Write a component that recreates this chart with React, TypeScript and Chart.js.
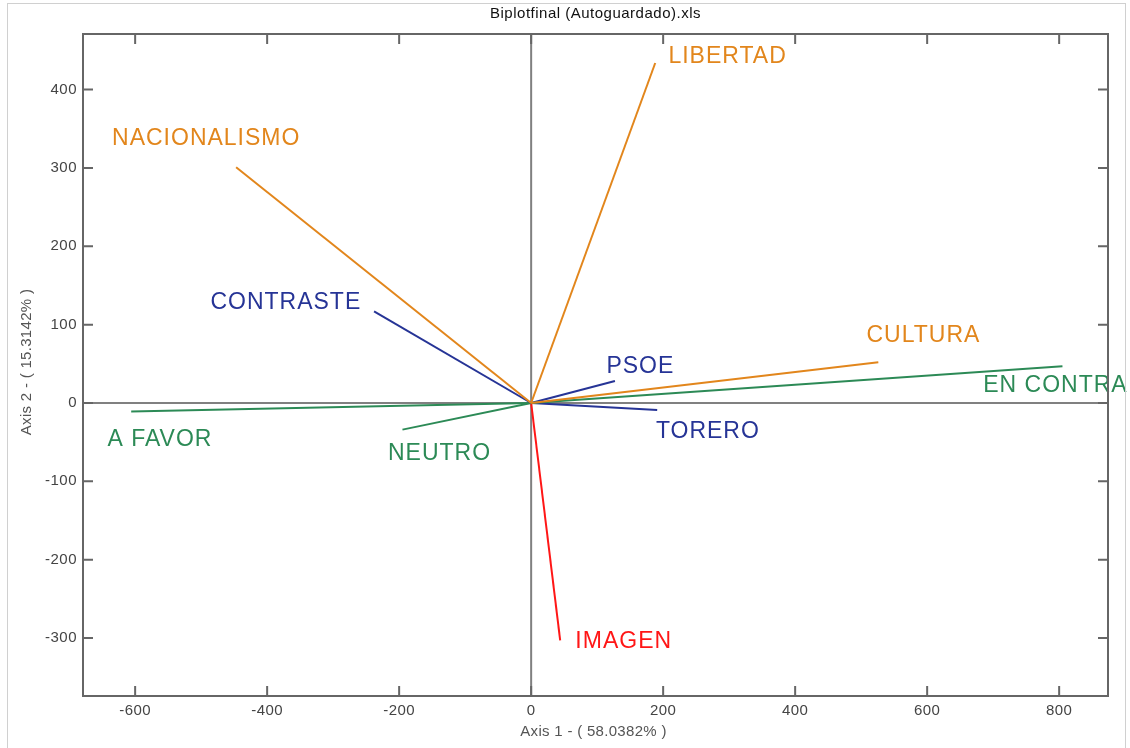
import { useEffect, useRef } from "react";
import { Chart, registerables } from "chart.js";

Chart.register(...registerables);

// ---- Data ----
const variables = ["LIBERTAD", "NACIONALISMO", "CONTRASTE", "CULTURA", "EN CONTRA", "PSOE", "TORERO", "A FAVOR", "NEUTRO", "IMAGEN"];
const groups = ["rasgo", "rasgo", "figura", "rasgo", "postura", "figura", "figura", "postura", "postura", "imagen"];
const axis1 = [188, -447, -238, 526, 805, 127, 191, -606, -195, 44];
const axis2 = [434, 301, 117, 52, 47, 28, -9, -11, -34, -303];
const labelAxis1 = [208, -635, -486, 508, 685, 114, 189, -642, -217, 67];
const labelAxis2 = [442, 338, 128, 86, 22, 47, -36, -47, -65, -304];
const xTickValues = [-600, -400, -200, 0, 200, 400, 600, 800];
const yTickValues = [-300, -200, -100, 0, 100, 200, 300, 400];
const xRange = [-679, 874];
const yRange = [-374, 471];
const chartTitle = "Biplotfinal (Autoguardado).xls";
const xTitle = "Axis 1 - ( 58.0382% )";
const yTitle = "Axis 2 - ( 15.3142% )";

// ---- Styles ----
const groupColors: Record<string, string> = {
  rasgo: "rgb(226,134,28)",
  figura: "rgb(38,52,150)",
  postura: "rgb(44,138,86)",
  imagen: "rgb(255,22,22)",
};
const FONT = "'Liberation Sans', Arial, sans-serif";

const decorPlugin = {
  id: "biplotDecor",
  beforeDraw(chart: any) {
    (chart.ctx as any).letterSpacing = "0.5px";
  },
  beforeDatasetsDraw(chart: any) {
    const { ctx, chartArea, scales } = chart;
    const x0 = scales.x.getPixelForValue(0);
    const y0 = scales.y.getPixelForValue(0);
    ctx.save();
    ctx.strokeStyle = "#808080";
    ctx.lineWidth = 2;
    ctx.beginPath();
    ctx.moveTo(x0, chartArea.top);
    ctx.lineTo(x0, chartArea.bottom);
    ctx.moveTo(chartArea.left, y0);
    ctx.lineTo(chartArea.right, y0);
    ctx.stroke();
    ctx.restore();
  },
  afterDatasetsDraw(chart: any) {
    const { ctx, chartArea, scales } = chart;
    const { left, right, top, bottom } = chartArea;
    ctx.save();
    // variable labels
    ctx.font = `23px ${FONT}`;
    (ctx as any).letterSpacing = "1px";
    ctx.textAlign = "left";
    ctx.textBaseline = "middle";
    variables.forEach((name, i) => {
      ctx.fillStyle = groupColors[groups[i]];
      ctx.fillText(name, scales.x.getPixelForValue(labelAxis1[i]), scales.y.getPixelForValue(labelAxis2[i]));
    });

    // frame
    ctx.strokeStyle = "#666";
    ctx.lineWidth = 2;
    ctx.strokeRect(left, top, right - left, bottom - top);
    // inward ticks
    const tl = 10;
    ctx.beginPath();
    xTickValues.forEach((v) => {
      const px = scales.x.getPixelForValue(v);
      ctx.moveTo(px, bottom);
      ctx.lineTo(px, bottom - tl);
      ctx.moveTo(px, top);
      ctx.lineTo(px, top + tl);
    });
    yTickValues.forEach((v) => {
      const py = scales.y.getPixelForValue(v);
      ctx.moveTo(left, py);
      ctx.lineTo(left + tl, py);
      ctx.moveTo(right, py);
      ctx.lineTo(right - tl, py);
    });
    ctx.stroke();

    // title
    ctx.fillStyle = "#111";
    ctx.font = `15px ${FONT}`;
    (ctx as any).letterSpacing = "0.5px";
    ctx.textAlign = "center";
    ctx.textBaseline = "middle";
    ctx.fillText(chartTitle, (left + right) / 2, 14);

    // axis titles
    ctx.fillStyle = "#555";
    ctx.font = `15px ${FONT}`;
    (ctx as any).letterSpacing = "0.3px";
    ctx.fillText(xTitle, (left + right) / 2 - 2, 732);
    ctx.save();
    ctx.translate(27, (top + bottom) / 2 - 3);
    ctx.rotate(-Math.PI / 2);
    ctx.fillText(yTitle, 0, 0);
    ctx.restore();

    // outer window border
    ctx.strokeStyle = "#d0d0d0";
    ctx.lineWidth = 1;
    ctx.strokeRect(7.5, 3.5, 1118, 760);
    ctx.restore();
  },
};

export default function App() {
  const canvasRef = useRef<HTMLCanvasElement | null>(null);

  useEffect(() => {
    if (!canvasRef.current) return;
    const datasets = variables.map((name, i) => ({
      label: name,
      data: [
        { x: 0, y: 0 },
        { x: axis1[i], y: axis2[i] },
      ],
      showLine: true,
      borderColor: groupColors[groups[i]],
      backgroundColor: groupColors[groups[i]],
      borderWidth: 2,
      pointRadius: 0,
      pointHoverRadius: 0,
    }));

    const tickFont = { family: FONT, size: 15 };
    const chart = new Chart(canvasRef.current, {
      type: "scatter",
      data: { datasets },
      options: {
        animation: false,
        responsive: true,
        maintainAspectRatio: false,
        layout: { padding: { top: 34, right: 22, left: 0, bottom: 0 } },
        plugins: {
          legend: { display: false },
          title: { display: false },
          tooltip: { enabled: false },
        },
        scales: {
          x: {
            type: "linear",
            min: xRange[0],
            max: xRange[1],
            grid: { display: false, drawTicks: false },
            border: { display: false },
            ticks: {
              font: tickFont,
              color: "#444",
              padding: 6,
              maxRotation: 0,
              autoSkip: false,
              includeBounds: false,
            },
            afterBuildTicks: (s: any) => {
              s.ticks = xTickValues.map((v) => ({ value: v }));
            },
            afterFit: (s: any) => {
              s.height = 52;
            },
          },
          y: {
            type: "linear",
            min: yRange[0],
            max: yRange[1],
            grid: { display: false, drawTicks: false },
            border: { display: false },
            ticks: {
              font: tickFont,
              color: "#444",
              padding: 6,
              autoSkip: false,
              includeBounds: false,
            },
            afterBuildTicks: (s: any) => {
              s.ticks = yTickValues.map((v) => ({ value: v }));
            },
            afterFit: (s: any) => {
              s.width = 83;
            },
          },
        },
      } as any,
      plugins: [decorPlugin],
    });
    return () => chart.destroy();
  }, []);

  return (
    <div style={{ position: "absolute", left: 0, top: 0, width: 1130, height: 748, background: "#fff" }}>
      <canvas ref={canvasRef} />
    </div>
  );
}
